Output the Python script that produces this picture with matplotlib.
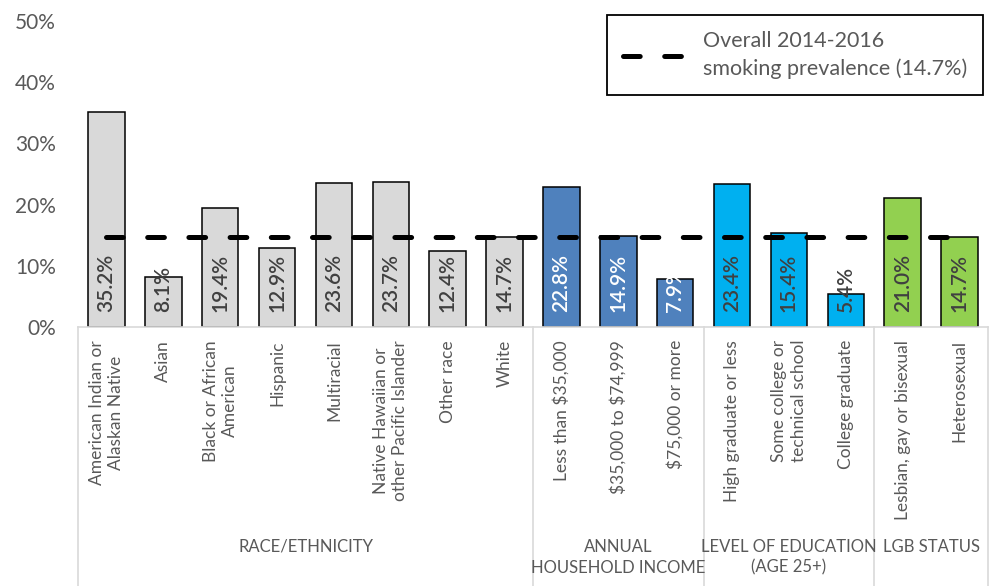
import matplotlib
matplotlib.use('Agg')
import matplotlib.pyplot as plt
from matplotlib.lines import Line2D
from matplotlib.ticker import FuncFormatter
import matplotlib.transforms as mtransforms

plt.rcParams['font.family'] = ['Lato', 'DejaVu Sans']
plt.rcParams['text.parse_math'] = False

# data
categories = ['American Indian or\nAlaskan Native', 'Asian', 'Black or African\nAmerican', 'Hispanic',
              'Multiracial', 'Native Hawaiian or\nother Pacific Islander', 'Other race', 'White',
              'Less than $35,000', '$35,000 to $74,999', '$75,000 or more',
              'High graduate or less', 'Some college or\ntechnical school', 'College graduate',
              'Lesbian, gay or bisexual', 'Heterosexual']
values = [35.2, 8.1, 19.4, 12.9, 23.6, 23.7, 12.4, 14.7,
          22.8, 14.9, 7.9,
          23.4, 15.4, 5.4,
          21.0, 14.7]
groups = ['RACE/ETHNICITY', 'ANNUAL\nHOUSEHOLD INCOME', 'LEVEL OF EDUCATION\n(AGE 25+)', 'LGB STATUS']
group_sizes = [8, 3, 3, 2]
overall = 14.7

group_colors = ['#D9D9D9', '#4F81BD', '#00B0F0', '#92D050']
label_colors = ['#404040', '#FFFFFF', '#404040', '#404040']
GRAY_TEXT = '#595959'

fig = plt.figure(figsize=(9.92, 5.86), dpi=100)
ax = fig.add_axes([78 / 992, 1 - 327 / 586, 910 / 992, 306 / 586])

colors, lcolors = [], []
for g, n in enumerate(group_sizes):
    colors += [group_colors[g]] * n
    lcolors += [label_colors[g]] * n

x = list(range(len(values)))
ax.bar(x, values, width=0.64, color=colors, edgecolor='black', linewidth=1.1, zorder=2)

for i, v in enumerate(values):
    ax.annotate(f'{v:.1f}%', (i, 0), xytext=(0, 11), textcoords='offset points',
                rotation=90, ha='center', va='bottom', fontsize=15, fontweight='semibold',
                color=lcolors[i], zorder=3)

# overall prevalence line
lw = 3.6
ax.plot([0, len(values) - 1], [overall, overall], color='black', linewidth=lw,
        linestyle=(0, (3.34, 4.9)), dash_capstyle='round', zorder=4)

ax.set_xlim(-0.5, len(values) - 0.5)
ax.set_ylim(0, 50)
ax.set_yticks(range(0, 51, 10))
ax.yaxis.set_major_formatter(FuncFormatter(lambda v, p: f'{v:.0f}%'))
ax.tick_params(axis='y', length=0, labelsize=15, labelcolor=GRAY_TEXT, pad=16)
ax.set_xticks([])
for s in ['top', 'right', 'left']:
    ax.spines[s].set_visible(False)
ax.spines['bottom'].set_color('#D9D9D9')
ax.spines['bottom'].set_linewidth(1.2)

# category and group labels below the axis
trans = mtransforms.blended_transform_factory(ax.transData, fig.transFigure)
for i, c in enumerate(categories):
    ax.text(i, 1 - 340 / 586, c, transform=trans, rotation=90, ha='center', va='top',
            multialignment='center', fontsize=12.5, color=GRAY_TEXT, linespacing=1.25)

edges = [-0.5]
for n in group_sizes:
    edges.append(edges[-1] + n)
for e in edges:
    ax.add_line(Line2D([e, e], [0, 1 - 327 / 586], transform=trans, color='#D9D9D9',
                       linewidth=1.2, clip_on=False))
for g, name in enumerate(groups):
    mid = (edges[g] + edges[g + 1]) / 2
    ax.text(mid, 1 - 539 / 586, name, transform=trans, ha='center', va='top',
            multialignment='center', fontsize=12, color=GRAY_TEXT, linespacing=1.35)

handle = Line2D([], [], color='black', linewidth=lw, linestyle=(0, (3.34, 4.9)),
                dash_capstyle='round')
leg = fig.legend([handle], ['Overall 2014-2016\nsmoking prevalence (14.7%)'],
                 loc='upper right', bbox_to_anchor=(983 / 992, 1 - 15 / 586),
                 borderaxespad=0, fontsize=15.5, frameon=True, fancybox=False,
                 handlelength=2.9, borderpad=0.75, handletextpad=0.8,
                 labelcolor=GRAY_TEXT)
for t in leg.get_texts():
    t.set_linespacing(1.45)
leg.get_frame().set_edgecolor('black')
leg.get_frame().set_linewidth(1.3)
leg.get_frame().set_alpha(1)

fig.savefig('out.png', dpi=100)
